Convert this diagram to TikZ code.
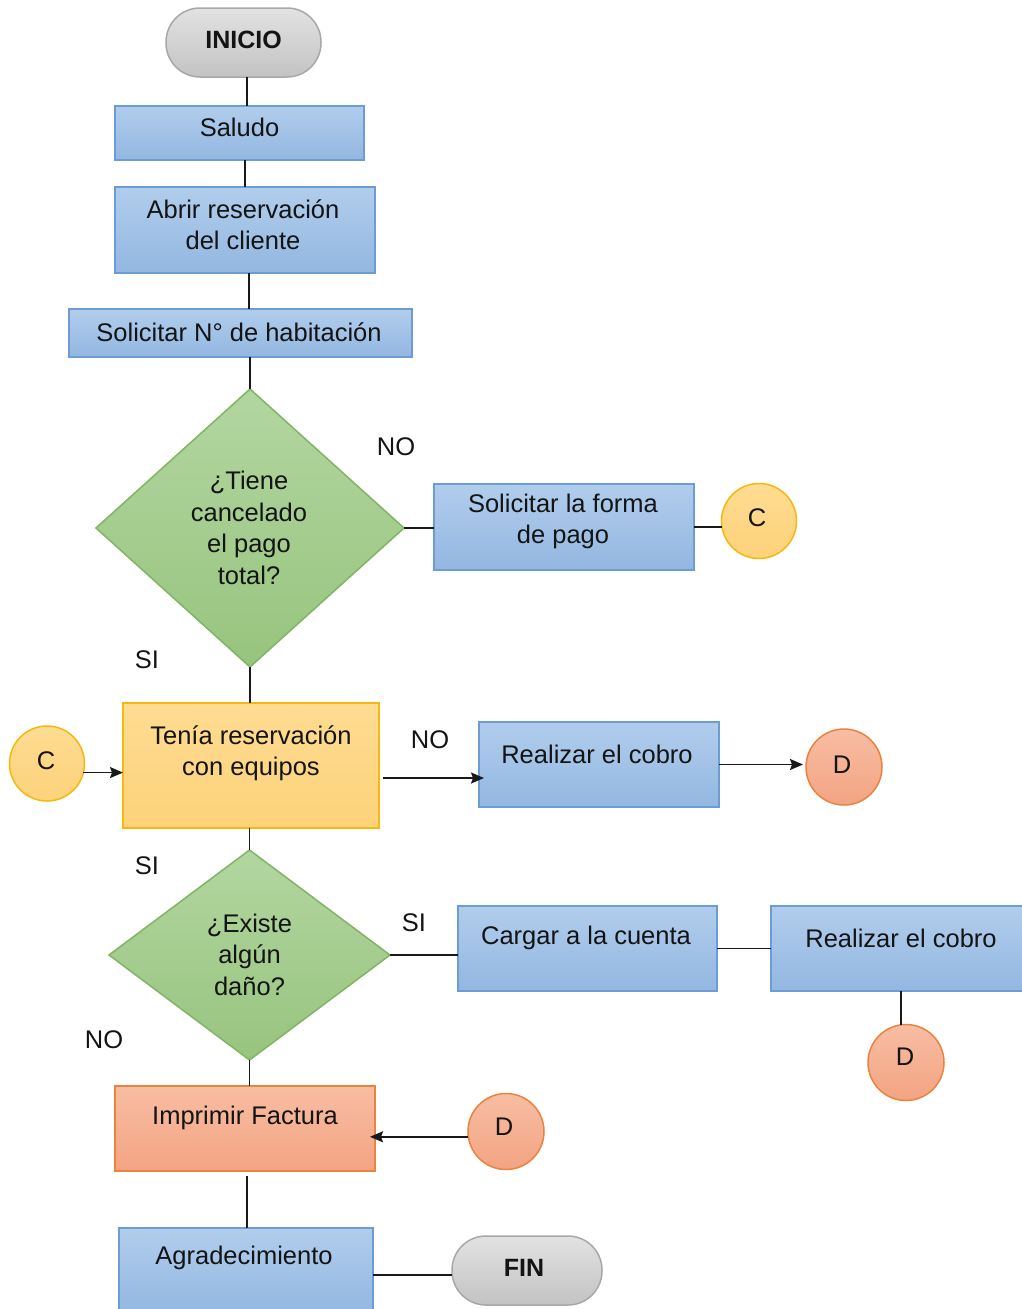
\documentclass[tikz,border=0pt]{standalone}
\usepackage{fontspec}
\setmainfont{Liberation Sans}
\usetikzlibrary{shapes.geometric,arrows.meta}

\definecolor{blueT}{HTML}{B1CDEC}
\definecolor{blueB}{HTML}{93B7E1}
\definecolor{blueD}{HTML}{6C9BD5}
\definecolor{greenT}{HTML}{B3D6A1}
\definecolor{greenB}{HTML}{97C47E}
\definecolor{greenD}{HTML}{82B366}
\definecolor{yelT}{HTML}{FEDC92}
\definecolor{yelB}{HTML}{FDD27A}
\definecolor{yelD}{HTML}{F5B80F}
\definecolor{salT}{HTML}{F8BDA3}
\definecolor{salB}{HTML}{F3A482}
\definecolor{salD}{HTML}{E8843F}
\definecolor{grayT}{HTML}{E2E2E2}
\definecolor{grayB}{HTML}{C3C3C3}
\definecolor{grayD}{HTML}{A8A8A8}
\definecolor{ink}{HTML}{141414}

\begin{document}
\begin{tikzpicture}[x=1pt,y=-1pt,
  shape base/.style={line width=1.5pt, inner sep=0pt, outer sep=0pt},
  procbox/.style={shape base, rectangle, draw=blueD, top color=blueT, bottom color=blueB},
  yelbox/.style={shape base, rectangle, draw=yelD, top color=yelT, bottom color=yelB},
  salbox/.style={shape base, rectangle, draw=salD, top color=salT, bottom color=salB},
  terminal/.style={shape base, rectangle, rounded corners=34pt, draw=grayD, top color=grayT, bottom color=grayB, minimum width=155pt, minimum height=69pt},
  decision/.style={shape base, diamond, draw=greenD, top color=greenT, bottom color=greenB},
  connC/.style={shape base, circle, draw=yelD, top color=yelT, bottom color=yelB, minimum size=75pt},
  connD/.style={shape base, circle, draw=salD, top color=salT, bottom color=salB, minimum size=76pt},
  txt/.style={font=\fontsize{25.5}{31.5}\selectfont, text=ink, align=center, inner sep=0pt},
  lbl/.style={font=\fontsize{25.5}{30}\selectfont, text=ink, inner sep=0pt},
  conn/.style={line width=1.8pt, draw=black!90},
  arr/.style={conn, -{Stealth[length=13pt, width=11pt, inset=2pt]}}
]
\useasboundingbox (0,0) rectangle (1021,1309);

% --- shapes ---
\node[terminal] (inicio) at (243.5,42.5) {};
\node[txt, font=\fontsize{25}{30}\selectfont\bfseries] (tInicio) at (243.5,40) {INICIO};

\node[procbox, minimum width=249pt, minimum height=54pt] (saludo) at (239.5,133) {};
\node[txt] (tSaludo) at (239.5,127) {Saludo};

\node[procbox, minimum width=260pt, minimum height=86pt] (abrir) at (245,230) {};
\node[txt] (tAbrir) at (243,224.5) {Abrir reservación\\del cliente};

\node[procbox, minimum width=343pt, minimum height=48pt] (solN) at (240.5,333) {};
\node[txt] (tSolN) at (239,332) {Solicitar N° de habitación};

\node[decision, minimum width=308pt, minimum height=278pt] (dec1) at (250,528) {};
\node[txt] (tDec1) at (249,528) {¿Tiene\\cancelado\\el pago\\total?};

\node[procbox, minimum width=260pt, minimum height=86pt] (forma) at (564,527) {};
\node[txt] (tForma) at (563,521.5) {Solicitar la forma\\de pago};

\node[connC] (cR) at (759,521) {};
\node[txt] (tcR) at (757,518) {C};

\node[yelbox, minimum width=256pt, minimum height=125pt] (tenia) at (251,765.5) {};
\node[txt] (tTenia) at (251,753) {Tenía reservación\\con equipos};

\node[connC] (cL) at (47,763.5) {};
\node[txt] (tcL) at (46,761) {C};

\node[procbox, minimum width=240pt, minimum height=85pt] (cobro1) at (599,764.5) {};
\node[txt] (tCobro1) at (597,754) {Realizar el cobro};

\node[connD] (dR1) at (844,767) {};
\node[txt] (tdR1) at (842,765) {D};

\node[decision, minimum width=281pt, minimum height=210pt] (dec2) at (249.5,955) {};
\node[txt] (tDec2) at (249.5,954.5) {¿Existe\\algún\\daño?};

\node[procbox, minimum width=259pt, minimum height=85pt] (cargar) at (587.5,948.5) {};
\node[txt] (tCargar) at (586,938) {Cargar a la cuenta};

\node[procbox, minimum width=260pt, minimum height=85pt] (cobro2) at (901,948.5) {};
\node[txt] (tCobro2) at (901,938) {Realizar el cobro};

\node[connD] (dR2) at (906,1062.5) {};
\node[txt] (tdR2) at (905,1057) {D};

\node[salbox, minimum width=260pt, minimum height=85pt] (imprimir) at (245,1128.5) {};
\node[txt] (tImprimir) at (245,1118) {Imprimir Factura};

\node[connD] (dR3) at (506,1131.5) {};
\node[txt] (tdR3) at (504,1127) {D};

\node[procbox, minimum width=254pt, minimum height=85pt] (agrad) at (246,1270.5) {};
\node[txt] (tAgrad) at (244,1258) {Agradecimiento};

\node[terminal, minimum width=150pt] (fin) at (527,1270.5) {};
\node[txt, font=\fontsize{25}{30}\selectfont\bfseries] (tFin) at (524,1268) {FIN};

% --- branch labels ---
\node[lbl] (noA) at (396,447) {NO};
\node[lbl] (siA) at (147,660) {SI};
\node[lbl] (noB) at (430,740) {NO};
\node[lbl] (siB) at (147,866) {SI};
\node[lbl] (siC) at (414,923) {SI};
\node[lbl] (noC) at (104,1040) {NO};

% --- connectors ---
\draw[conn] (inicio.south -| 247,0) -- (saludo.north -| 247,0);
\draw[conn] (saludo.south -| 245,0) -- (abrir.north -| 245,0);
\draw[conn] (abrir.south -| 249,0) -- (solN.north -| 249,0);
\draw[conn] (solN.south -| dec1.north) -- (dec1.north);
\draw[conn] (dec1.east) -- (forma.west |- dec1.east);
\draw[conn] (cR.189 -| forma.east) -- (cR.189);
\draw[conn] (dec1.south) -- (tenia.north -| dec1.south);
\draw[arr] (cL.-14) -- (tenia.west |- cL.-14);
\draw[arr] ([xshift=4pt]tenia.east |- 0,778) -- ([xshift=5pt]cobro1.west |- 0,778);
\draw[arr] (cobro1.east) -- ([xshift=-3pt]cobro1.east -| dR1.west);
\draw[conn] (tenia.south -| dec2.north) -- (dec2.north);
\draw[conn] (dec2.east) -- (cargar.west |- dec2.east);
\draw[conn] (cargar.east) -- (cobro2.west);
\draw[conn] (cobro2.south) -- (cobro2.south |- dR2.north);
\draw[conn] (dec2.south) -- (dec2.south |- imprimir.north);
\draw[arr] (dR3.188) -- ([xshift=-5pt]imprimir.east |- dR3.188);
\draw[conn] ([yshift=-5pt]imprimir.south -| 247,0) -- (agrad.north -| 247,0);
\draw[conn] (agrad.east |- 0,1275) -- (fin.west |- 0,1275);
\end{tikzpicture}
\end{document}
